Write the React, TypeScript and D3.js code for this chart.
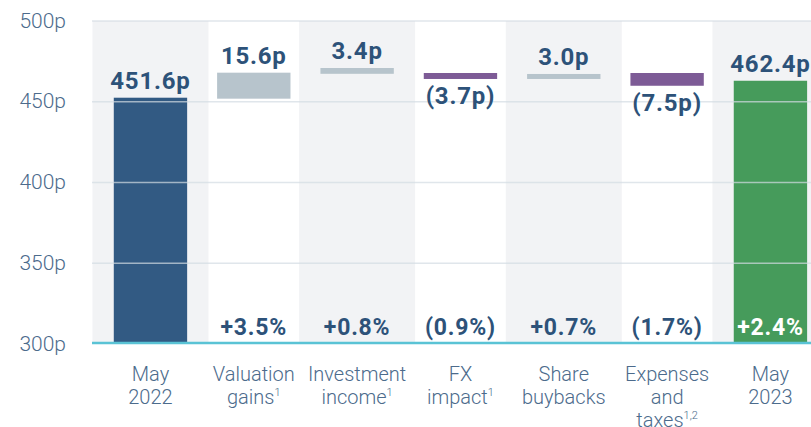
import { useMemo } from "react";
import * as d3 from "d3";

const categories = [
  "May 2022",
  "Valuation gains",
  "Investment income",
  "FX impact",
  "Share buybacks",
  "Expenses and taxes",
  "May 2023",
];
// label lines; "^" marks a superscript
const categoryLines = [
  ["May", "2022"],
  ["Valuation", "gains^1"],
  ["Investment", "income^1"],
  ["FX", "impact^1"],
  ["Share", "buybacks"],
  ["Expenses", "and", "taxes^1,2"],
  ["May", "2023"],
];
const kinds = ["total", "up", "up", "down", "up", "down", "end"];
const barBase = [300, 451.9, 467.3, 464.1, 464.1, 459.9, 300];
const barTop = [452.5, 468.0, 470.9, 467.8, 467.2, 467.8, 463.0];
const valueLabels = ["451.6p", "15.6p", "3.4p", "(3.7p)", "3.0p", "(7.5p)", "462.4p"];
const pctLabels = ["", "+3.5%", "+0.8%", "(0.9%)", "+0.7%", "(1.7%)", "+2.4%"];
const yTicks = [300, 350, 400, 450, 500];

const W = 811;
const H = 427;
const FONT = "Roboto, 'Noto Sans', sans-serif";
const TEXT = "#2d5279";
const AXIS = "#4c6b8c";

const fills: Record<string, string> = {
  total: "#325a83",
  up: "#b7c4cc",
  down: "#7d5b96",
  end: "#469b5b",
};

function Label({ line, x, y }: { line: string; x: number; y: number }) {
  const [main, sup] = line.split("^");
  return (
    <text x={x} y={y} textAnchor="middle" fontSize={20} fontWeight={300} fill={AXIS} fontFamily={FONT}>
      {main}
      {sup && (
        <tspan fontSize={11} dy={-8}>
          {sup}
        </tspan>
      )}
    </text>
  );
}

export default function App() {
  const x = useMemo(
    () => d3.scaleBand<string>().domain(categories).range([98.8, 822.1]).paddingInner(0.29).paddingOuter(0.145),
    []
  );
  const y = useMemo(() => d3.scaleLinear().domain([300, 500]).range([344, 21]), []);
  const bw = x.bandwidth();
  const plotLeft = 92;

  return (
    <>
      <style>{`body{margin:0}`}</style>
      <svg width={W} height={H} style={{ display: "block" }}>
        {/* alternating background bands */}
        {categories.map((c, i) =>
          i % 2 === 0 ? (
            <rect
              key={"band" + c}
              x={x(c)! + bw / 2 - 58}
              y={y(500)}
              width={116}
              height={y(300) - y(500)}
              fill="#f2f3f5"
            />
          ) : null
        )}

        {/* bars */}
        {categories.map((c, i) => (
          <rect
            key={"bar" + c}
            x={x(c)}
            y={y(barTop[i])}
            width={bw}
            height={y(barBase[i]) - y(barTop[i])}
            fill={fills[kinds[i]]}
          />
        ))}

        {/* gridlines */}
        {yTicks
          .filter((t) => t > 300)
          .map((t) => (
            <line
              key={"g" + t}
              x1={plotLeft}
              x2={W}
              y1={y(t)}
              y2={y(t)}
              stroke="#d3dbe3"
              strokeOpacity={0.7}
              strokeWidth={1.5}
            />
          ))}

        {/* baseline */}
        <line x1={plotLeft} x2={W} y1={y(300) - 1} y2={y(300) - 1} stroke="#5ac3d5" strokeWidth={2.5} />

        {/* y axis labels */}
        {yTicks.map((t) => (
          <text
            key={"t" + t}
            x={66}
            y={y(t) + 1}
            textAnchor="end"
            dominantBaseline="middle"
            fontSize={21}
            fontWeight={300}
            fill={AXIS}
            fontFamily={FONT}
          >
            {t}p
          </text>
        ))}

        {/* value labels */}
        {categories.map((c, i) => {
          const cx = x(c)! + bw / 2;
          const ly = kinds[i] === "down" ? y(barBase[i]) + 25 : y(barTop[i]) - 9;
          return (
            <text
              key={"v" + c}
              x={cx}
              y={ly}
              textAnchor="middle"
              fontSize={24}
              fontWeight={700}
              letterSpacing={0.8}
              fill={TEXT}
              fontFamily={FONT}
            >
              {valueLabels[i]}
            </text>
          );
        })}

        {/* percentage labels */}
        {categories.map((c, i) =>
          pctLabels[i] ? (
            <text
              key={"p" + c}
              x={x(c)! + bw / 2}
              y={335}
              textAnchor="middle"
              fontSize={23}
              fontWeight={700}
              letterSpacing={0.8}
              fill={kinds[i] === "end" ? "#ffffff" : TEXT}
              fontFamily={FONT}
            >
              {pctLabels[i]}
            </text>
          ) : null
        )}

        {/* category labels */}
        {categories.map((c, i) =>
          categoryLines[i].map((line, j) => (
            <Label key={c + j} line={line} x={x(c)! + bw / 2} y={381 + j * 23} />
          ))
        )}
      </svg>
    </>
  );
}
